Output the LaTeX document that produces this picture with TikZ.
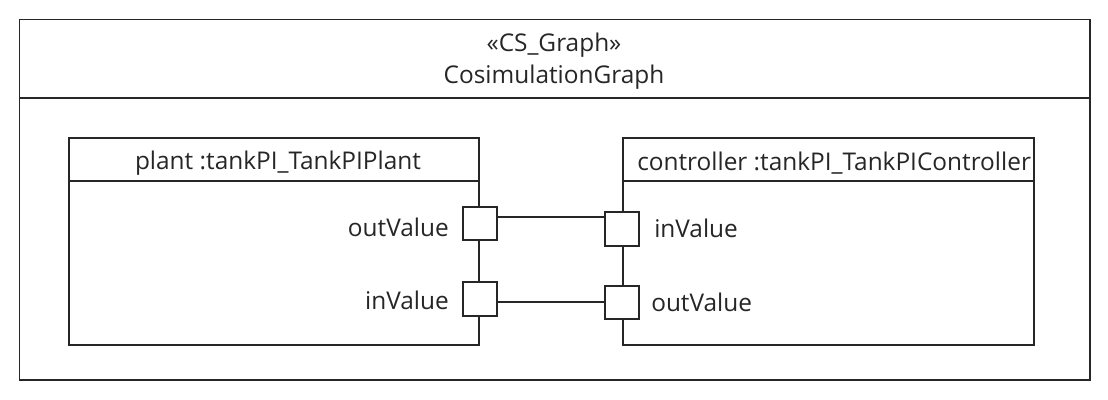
\documentclass[tikz,border=0pt]{standalone}
\usepackage{fontspec}
\setmainfont{Open Sans}
\begin{document}
\begin{tikzpicture}[x=0.75pt,y=-0.75pt,
  box/.style={draw=black!85,line width=1.3pt},
  port/.style={draw=black!85,line width=1.3pt,fill=white,minimum width=25pt,minimum height=25pt,inner sep=0pt},
  lbl/.style={font=\fontsize{18.3pt}{20pt}\selectfont,text=black!85,inner sep=0pt},
  wire/.style={draw=black!85,line width=1.3pt}]
\useasboundingbox (0,0) rectangle (1108,400);
% outer
\draw[box] (19.5,19.5) rectangle (1090,380);
\draw[box] (19.5,98) -- (1090,98);
\node[lbl] (st) at (554,45) {«CS\_Graph»};
\node[lbl] (nm) at (554,77) {CosimulationGraph};
% plant
\draw[box] (69,138) rectangle (479,345);
\draw[box] (69,181) -- (479,181);
\node[lbl] (pt) at (278,163) {plant :tankPI\_TankPIPlant};
% controller
\draw[box] (623,138) rectangle (1034,345);
\draw[box] (623,181) -- (1034,181);
\begin{scope}
\clip (623,138) rectangle (1033,181);
\node[lbl,anchor=west] (ct) at (637,163) {controller :tankPI\_TankPIController};
\end{scope}
% ports
\node[port] (po) at (480,223.5) {};
\node[port] (pi) at (480,299) {};
\node[port] (ci) at (622,229) {};
\node[port] (co) at (622,302.5) {};
\node[lbl,anchor=east] (lpo) at (449,227) {outValue};
\node[lbl,anchor=east] (lpi) at (449,300) {inValue};
\node[lbl,anchor=west] (lci) at (654,228) {inValue};
\node[lbl,anchor=west] (lco) at (651,302) {outValue};
% wires
\draw[wire] (po.east |- 0,217) -- (ci.west |- 0,217);
\draw[wire] (pi.east |- 0,302) -- (co.west |- 0,302);
\end{tikzpicture}
\end{document}
